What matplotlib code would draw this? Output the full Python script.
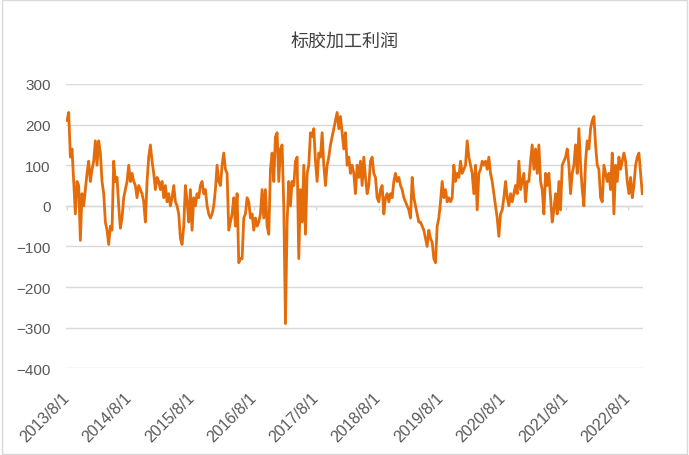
#!/usr/bin python3

# import required libraries
import numpy as np
import pandas as pd
import matplotlib
matplotlib.use("Agg")
import matplotlib.pyplot as plt
from matplotlib.patches import Rectangle

plt.rcParams['font.family'] = ['Liberation Sans', 'Noto Sans CJK SC', 'DejaVu Sans']

# profit values, every 10 days from 2013/8/1
profit_part1 = [
    210, 230, 120, 140, 60, -20, 60, 50, -85, 30, 0, 40, 80, 110, 60, 90,
    110, 160, 100, 160, 130, 60, 30, -40, -60, -95, -50, -60, 110, 60, 70, 0,
    -55, -30, 20, 40, 60, 100, 60, 80, 60, 50, 20, 50, 40, 30, 10, -40,
    60, 120, 150, 110, 80, 40, 70, 60, 40, 60, 20, 50, 10, 30, 0, 20,
    50, 10, 0, -20, -80, -95, -50, 50, 10, -40, 40, -60, 20, 0, 30, 20,
    50, 60, 30, 40, 0, -20, -30, -20, 0, 40, 100, 60,
]
profit_part2 = [
    50, 100, 130, 90, 80, -60, -40, -20, 20, -50, 30, -140, -130, -130, -30, -20,
    20, 10, -30, -20, -60, -30, -50, -40, -20, 40, -30, 40, -50, -70, 90, 130,
    60, 170, 180, 60, 140, 150, 0, -290, -40, 60, 0, 60, 50, 110, 120, -130,
    40, -40, 100, -70, 80, 100, 180, 170, 190, 110, 60, 130, 120, 180, 100, 50,
    100, 120, 150, 170, 190, 210, 230, 190, 220, 180, 140, 180, 100, 120, 80, 100,
    80, 30, 100, 70, 110, 50, 120, 70, 30, 50, 110, 120, 80, 70, 20, 10,
    40, 50, -20, 20, 30, 10, 30, 20, 60, 80, 60, 70, 50, 40, 20, 10,
    0, -10, -30, 70, 20, 0, -20, -40, -40, -50, -60, -80, -100, -60, -80, -90,
    -130, -140, -50, -30,
]
profit_part3 = [
    10, 60, 20, 40, 10, 20, 10, 20, 100, 60, 80, 70, 110, 80, 90, 100,
    160, 120, 100, 80, 30, 100, -10, 80, 90, 110, 100, 110, 90, 120, 80, 60,
    30, 0, -30, -75, -20, -10, 20, 60, 20, 0, 30, 10, 30, 50, 30, 110,
    40, 60, 80, 10, 60, 60, 110, 150, 90, 140, 80, 150, 60, 40, -20, 80,
    50, 80, 20, -40, -10, 30, -20, 60, -10, 100, 110, 120, 140, 100, 30, 80,
    100, 150, 80, 190, 100, 40, 0, 110, 160, 140, 190, 210, 220, 150, 100, 90,
    20, 10, 100, 80, 60, 80, 40, 130, -20, 100, 60, 120, 90, 110, 130, 110,
    60, 30, 70, 20, 50, 100, 120, 130, 80, 30,
]
tick_years = list(range(2013, 2023))
tick_labels = [f"{y}/8/1" for y in tick_years]


def main():
    profit = np.array(profit_part1 + profit_part2 + profit_part3, dtype=float)
    start = pd.Timestamp("2013-08-01")
    dates = start + pd.to_timedelta(np.arange(len(profit)) * 9.77, unit="D")
    tick_dates = [pd.Timestamp(f"{y}-08-01") for y in tick_years]

    fig = plt.figure(figsize=(6.89, 4.56), dpi=100)
    ax = fig.add_axes([66 / 689, 1 - 369.3 / 456, (643 - 66) / 689, (369.3 - 85) / 456])

    ax.plot(dates, profit, color="#E46C0A", linewidth=2.0, zorder=3)

    ax.set_ylim(-400, 300)
    ax.set_yticks(range(-400, 301, 100))
    ax.set_xlim(start - pd.Timedelta(days=6), start + pd.Timedelta(days=3375))
    ax.grid(True, axis="y", color="#d9d9d9", linewidth=1)
    ax.set_axisbelow(True)
    for side in ["top", "right", "left", "bottom"]:
        ax.spines[side].set_visible(False)

    # small tick marks on the zero line like the original
    ax.vlines(tick_dates, -10, 0, color="#d9d9d9", linewidth=1, zorder=2)
    ax.axhline(0, color="#d9d9d9", linewidth=1, zorder=2)

    ax.set_xticks(tick_dates)
    ax.set_xticklabels(tick_labels, rotation=45, ha="right", va="center",
                       rotation_mode="anchor")
    ax.tick_params(axis="x", length=0, pad=19, labelsize=11.5, labelcolor="#595959")
    ax.tick_params(axis="y", length=0, pad=11, labelsize=11, labelcolor="#595959")

    fig.text(0.5, 1 - 42 / 456, "标胶加工利润", ha="center", va="center",
             fontsize=13, color="#404040", family=["Noto Sans CJK SC", "DejaVu Sans"])

    # light border around the chart
    fig.patches.append(Rectangle((0.003, 0.002), 0.994, 0.996, transform=fig.transFigure,
                                 fill=False, edgecolor="#d9d9d9", linewidth=1))

    plt.savefig("out.png", dpi=100)


if __name__ == '__main__':
    main()
